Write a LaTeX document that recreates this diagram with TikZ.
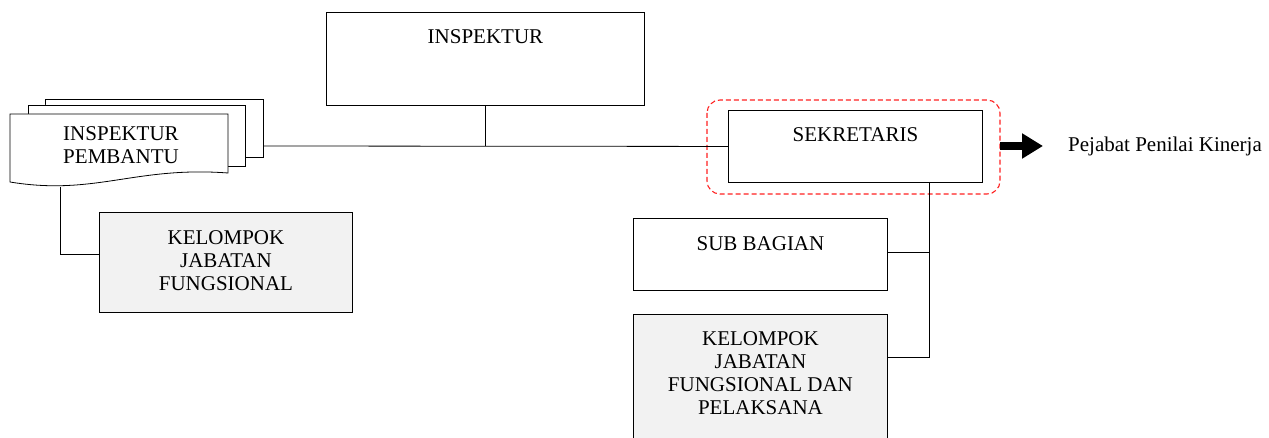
\documentclass[tikz,border=0pt]{standalone}
\usepackage{fontspec}
\setmainfont{Liberation Serif}
\usetikzlibrary{arrows.meta}
\definecolor{boxgray}{HTML}{F2F2F2}
\definecolor{dashred}{HTML}{FF2020}
\tikzset{
  orgbox/.style={draw=black, line width=0.9pt, inner sep=0pt, anchor=north west},
  graybox/.style={orgbox, fill=boxgray},
  boxtext/.style={inner sep=0pt, anchor=north, align=center,
    font=\fontsize{21}{23}\selectfont},
  link/.style={draw=black, line width=0.8pt},
  sheet/.style={draw=black, line width=0.8pt, fill=white, line join=miter}
}
\begin{document}
\begin{tikzpicture}[x=1pt, y=-1pt]
\useasboundingbox (0,0) rectangle (1269,438);
\clip (0,0) rectangle (1269,438);

% head of the inspectorate
\node[orgbox, minimum width=318pt, minimum height=93pt] (insp) at (326,12) {};
\node[boxtext] (insptxt) at ([yshift=-17pt]insp.north) {INSPEKTUR};

% stacked documents: assistant inspectors
\draw[sheet] (45,105) -- (45,99) -- (263,99) -- (263,157) -- (245,157);
\draw[sheet] (28,114) -- (28,105) -- (245,105) -- (245,166) -- (228,166);
\draw[sheet] (10,182) -- (10,114) -- (228,114) -- (228,173)
  .. controls (135,166) and (95,196) .. (10,182) -- cycle;
\node[inner sep=0pt, minimum width=218pt, minimum height=60pt, anchor=north west] (pemb) at (10,114) {};
\node[boxtext] (pembtxt) at (121,126) {INSPEKTUR\\PEMBANTU};
\coordinate (pembR) at (263,146);
\coordinate (pembB) at (60,187.5);

% functional groups under the assistant inspectors
\node[graybox, minimum width=253pt, minimum height=100pt] (kjf) at (99,212) {};
\node[boxtext] (kjftxt) at ([yshift=-18pt]kjf.north) {KELOMPOK\\JABATAN\\FUNGSIONAL};

% secretary with its evaluator frame
\node[orgbox, minimum width=254pt, minimum height=72pt] (sek) at (728,110) {};
\node[boxtext] (sektxt) at ([yshift=-17pt]sek.north) {SEKRETARIS};
\draw[dashred, line width=1.1pt, dash pattern=on 5pt off 3pt, rounded corners=13pt]
  (707,100) rectangle (1000,194);
\coordinate (frameE) at (1000,146);
\node[inner sep=0pt, anchor=west, font=\fontsize{21}{23}\selectfont] (ppk) at (1068,146) {Pejabat Penilai Kinerja};

% units under the secretary
\node[orgbox, minimum width=254pt, minimum height=72pt] (sub) at (633,218) {};
\node[boxtext] (subtxt) at ([yshift=-18pt]sub.north) {SUB BAGIAN};
\node[graybox, minimum width=254pt, minimum height=140pt] (kjfp) at (633,314) {};
\node[boxtext] (kjfptxt) at ([yshift=-17pt]kjfp.north) {KELOMPOK\\JABATAN\\FUNGSIONAL DAN\\PELAKSANA};

% connectors
\draw[link] (pembR) -- (sek.west);
\draw[link] (insp.south) -- (insp.south |- sek.west);
\draw[link] (pembB) |- (kjf.west |- 0,254);
\coordinate (sekB) at (929,182);
\draw[link] (sekB) -- (929,357.5);
\draw[link] (sub.east |- 0,252) -- (929,252);
\draw[link] (kjfp.east |- 0,357.5) -- (929,357.5);

% evaluator arrow
\draw[line width=8pt, -{Triangle[length=21pt, width=24pt]}, shorten >=25pt]
  (frameE) -- (ppk.west);
\end{tikzpicture}
\end{document}
